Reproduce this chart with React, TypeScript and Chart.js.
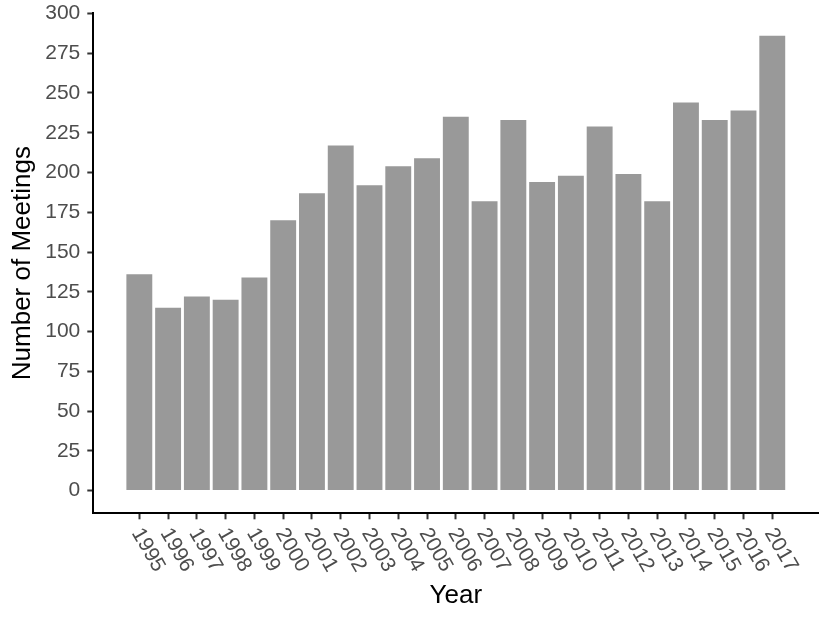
import React, { useEffect, useRef } from "react";
import { Chart, registerables } from "chart.js";

Chart.register(...registerables);

const years = [
  1995, 1996, 1997, 1998, 1999, 2000, 2001, 2002, 2003, 2004, 2005, 2006,
  2007, 2008, 2009, 2010, 2011, 2012, 2013, 2014, 2015, 2016, 2017,
];
const yearLabels = [
  "1995", "1996", "1997", "1998", "1999", "2000", "2001", "2002", "2003",
  "2004", "2005", "2006", "2007", "2008", "2009", "2010", "2011", "2012",
  "2013", "2014", "2015", "2016", "2017",
];
const meetings = [
  136, 115, 122, 120, 134, 170, 187, 217, 192, 204, 209, 235, 182, 233, 194,
  198, 229, 199, 182, 244, 233, 239, 286,
];
const yTicks = [0, 25, 50, 75, 100, 125, 150, 175, 200, 225, 250, 275, 300];
const yTitle = "Number of Meetings";
const xTitle = "Year";

const FONT = "'Liberation Sans', Arial, Helvetica, sans-serif";

export default function App() {
  const ref = useRef<HTMLCanvasElement>(null);

  useEffect(() => {
    const canvas = ref.current;
    if (!canvas) return;

    const xLabelsPlugin = {
      id: "xRotatedLabels",
      afterDraw(chart: any) {
        const ctx = chart.ctx;
        const xs = chart.scales.x;
        const base = chart.chartArea.bottom;
        ctx.save();
        ctx.font = `21px ${FONT}`;
        ctx.fillStyle = "#4d4d4d";
        ctx.textAlign = "left";
        ctx.textBaseline = "middle";
        years.forEach((yr, i) => {
          const px = xs.getPixelForValue(yr);
          ctx.save();
          ctx.translate(px - 3, base + 16.5);
          ctx.rotate(Math.PI / 3);
          ctx.fillText(yearLabels[i], 0, 0);
          ctx.restore();
        });
        ctx.restore();
      },
    };

    const chart = new Chart(canvas, {
      type: "bar",
      data: {
        datasets: [
          {
            data: years.map((x, i) => ({ x, y: meetings[i] })),
            backgroundColor: "#999999",
            borderWidth: 0,
            barPercentage: 0.9,
            categoryPercentage: 1,
          },
        ],
      },
      options: {
        animation: false,
        responsive: false,
        devicePixelRatio: 1,
        layout: { padding: { top: 13, right: 11.7, left: 0, bottom: 0 } },
        plugins: {
          legend: { display: false },
          tooltip: { enabled: false },
        },
        scales: {
          x: {
            type: "linear",
            offset: false,
            min: 1993.4,
            max: 2018.6,
            afterBuildTicks: (s: any) => {
              s.ticks = years.map((v) => ({ value: v }));
            },
            afterFit: (s: any) => {
              s.height = 110.7;
            },
            ticks: { display: false },
            grid: {
              offset: false,
              drawOnChartArea: false,
              drawTicks: true,
              tickLength: 6,
              tickColor: "#333333",
              tickWidth: 2,
              color: "#333333",
            },
            border: { display: true, color: "#000000", width: 2 },
            title: {
              display: true,
              text: xTitle,
              color: "#000000",
              font: { size: 26, family: FONT },
              padding: { top: 0, bottom: 12.4 },
            },
          },
          y: {
            min: -14.3,
            max: 300.3,
            afterBuildTicks: (s: any) => {
              s.ticks = yTicks.map((v) => ({ value: v }));
            },
            afterFit: (s: any) => {
              s.width = 93.3;
            },
            ticks: {
              color: "#4d4d4d",
              font: { size: 21, family: FONT, lineHeight: 0.5 },
              padding: 7,
            },
            grid: {
              drawOnChartArea: false,
              drawTicks: true,
              tickLength: 6,
              tickColor: "#333333",
              tickWidth: 2,
              color: "#333333",
            },
            border: { display: true, color: "#000000", width: 2 },
            title: {
              display: true,
              text: yTitle,
              color: "#000000",
              font: { size: 26, family: FONT },
              padding: { top: 7, bottom: 0 },
            },
          },
        },
      },
      plugins: [xLabelsPlugin],
    } as any);

    return () => chart.destroy();
  }, []);

  return (
    <div style={{ position: "absolute", left: 0, top: 0, width: 830, height: 624 }}>
      <canvas ref={ref} width={830} height={624} style={{ display: "block" }} />
    </div>
  );
}
